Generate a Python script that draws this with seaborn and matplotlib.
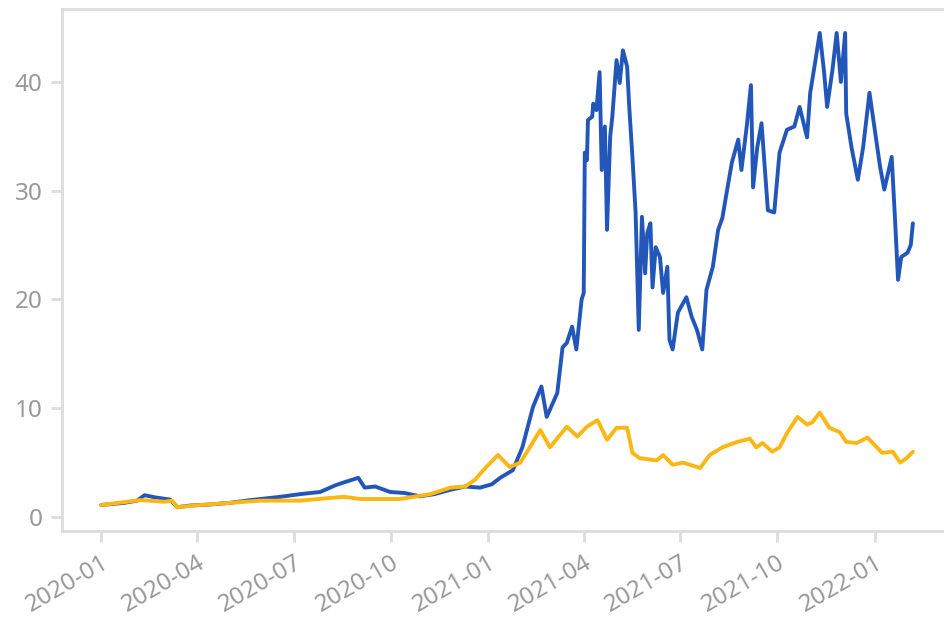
import matplotlib
matplotlib.use("Agg")
import matplotlib.pyplot as plt
import matplotlib.dates as mdates
import pandas as pd
import seaborn as sns

blue_dates = ["2020-01-01", "2020-01-12", "2020-01-23", "2020-02-04", "2020-02-11", "2020-02-21", "2020-03-06",
              "2020-03-13", "2020-03-25", "2020-04-13", "2020-05-02", "2020-05-21", "2020-06-04",
              "2020-06-18", "2020-07-07", "2020-07-26", "2020-08-09", "2020-08-18", "2020-08-31",
              "2020-09-06", "2020-09-16", "2020-09-30", "2020-10-14", "2020-10-28", "2020-11-11",
              "2020-11-26", "2020-12-10", "2020-12-24", "2021-01-04", "2021-01-12", "2021-01-24",
              "2021-02-02", "2021-02-12", "2021-02-20", "2021-02-25", "2021-03-07", "2021-03-12",
              "2021-03-16", "2021-03-21", "2021-03-25", "2021-03-30", "2021-04-01", "2021-04-02",
              "2021-04-04", "2021-04-05", "2021-04-09", "2021-04-10", "2021-04-13", "2021-04-16",
              "2021-04-18", "2021-04-21", "2021-04-23", "2021-04-26", "2021-04-28", "2021-05-02",
              "2021-05-05", "2021-05-08", "2021-05-12", "2021-05-14", "2021-05-17", "2021-05-20",
              "2021-05-23", "2021-05-26", "2021-05-29", "2021-05-31", "2021-06-03", "2021-06-05",
              "2021-06-08", "2021-06-12", "2021-06-15", "2021-06-19", "2021-06-21", "2021-06-24",
              "2021-06-29", "2021-07-07", "2021-07-12", "2021-07-17", "2021-07-22", "2021-07-26",
              "2021-08-01", "2021-08-06", "2021-08-10", "2021-08-14", "2021-08-19", "2021-08-25",
              "2021-08-28", "2021-09-02", "2021-09-06", "2021-09-08", "2021-09-12", "2021-09-16",
              "2021-09-22", "2021-09-28", "2021-10-03", "2021-10-10", "2021-10-17", "2021-10-22",
              "2021-10-29", "2021-11-01", "2021-11-05", "2021-11-10", "2021-11-14", "2021-11-17",
              "2021-11-22", "2021-11-26", "2021-11-30", "2021-12-04", "2021-12-05", "2021-12-10",
              "2021-12-16", "2021-12-21", "2021-12-27", "2022-01-01", "2022-01-06", "2022-01-10",
              "2022-01-17", "2022-01-20", "2022-01-23", "2022-01-26", "2022-02-01", "2022-02-04",
              "2022-02-06"]
blue_values = [1.1, 1.2, 1.3, 1.5, 2.0, 1.8, 1.6,
               0.9, 1.05, 1.15, 1.3, 1.55, 1.7,
               1.85, 2.1, 2.3, 2.9, 3.2, 3.6,
               2.7, 2.8, 2.3, 2.2, 1.9, 2.1,
               2.5, 2.8, 2.7, 3.0, 3.6, 4.3,
               6.4, 10.1, 12.0, 9.2, 11.4, 15.6,
               16.0, 17.5, 15.4, 20.0, 20.6, 33.5,
               32.8, 36.5, 36.8, 38.0, 37.4, 40.9,
               31.9, 35.9, 26.4, 35.0, 36.8, 42.0,
               39.9, 42.9, 41.4, 37.7, 33.1, 28.0,
               17.2, 27.6, 22.4, 26.1, 27.0, 21.1,
               24.8, 23.9, 20.6, 23.0, 16.3, 15.4,
               18.8, 20.2, 18.4, 17.2, 15.4, 20.9,
               23.0, 26.4, 27.5, 29.8, 32.6, 34.7,
               31.9, 35.9, 39.7, 30.3, 34.0, 36.2,
               28.2, 28.0, 33.5, 35.6, 35.9, 37.7,
               34.9, 39.0, 41.4, 44.5, 41.0, 37.7,
               41.1, 44.5, 40.0, 44.5, 37.1, 34.0,
               31.0, 34.0, 39.0, 35.6, 32.2, 30.1,
               33.1, 27.6, 21.8, 23.9, 24.3, 25.0,
               27.0]

yellow_dates = ["2020-01-01", "2020-02-07", "2020-03-01", "2020-03-08", "2020-03-13", "2020-04-03",
                "2020-05-02", "2020-05-30", "2020-07-07", "2020-08-04", "2020-08-18", "2020-09-02",
                "2020-10-09", "2020-11-07", "2020-11-26", "2020-12-10", "2020-12-19", "2020-12-29",
                "2021-01-10", "2021-01-21", "2021-01-31", "2021-02-09", "2021-02-19", "2021-02-28",
                "2021-03-16", "2021-03-26", "2021-04-04", "2021-04-14", "2021-04-23", "2021-05-02",
                "2021-05-12", "2021-05-17", "2021-05-24", "2021-06-09", "2021-06-15", "2021-06-24",
                "2021-07-04", "2021-07-20", "2021-07-29", "2021-08-10", "2021-08-24", "2021-09-05",
                "2021-09-11", "2021-09-17", "2021-09-26", "2021-10-03", "2021-10-10", "2021-10-20",
                "2021-10-29", "2021-11-03", "2021-11-10", "2021-11-19", "2021-11-29", "2021-12-05",
                "2021-12-15", "2021-12-25", "2022-01-03", "2022-01-08", "2022-01-18", "2022-01-25",
                "2022-01-31", "2022-02-06"]
yellow_values = [1.1, 1.55, 1.4, 1.5, 0.9, 1.1,
                 1.3, 1.5, 1.5, 1.75, 1.85, 1.65,
                 1.65, 2.1, 2.7, 2.8, 3.4, 4.5,
                 5.7, 4.6, 5.0, 6.4, 8.0, 6.4,
                 8.3, 7.4, 8.3, 8.9, 7.1, 8.2,
                 8.2, 5.9, 5.4, 5.2, 5.7, 4.8,
                 5.0, 4.5, 5.7, 6.4, 6.9, 7.2,
                 6.4, 6.8, 6.0, 6.4, 7.7, 9.2,
                 8.5, 8.7, 9.6, 8.2, 7.8, 6.9,
                 6.8, 7.3, 6.4, 5.9, 6.0, 5.0,
                 5.4, 6.0]

series_names = ["blue", "yellow"]
series_colors = ["#2356B9", "#FDB714"]

df = pd.concat([
    pd.DataFrame({"date": pd.to_datetime(blue_dates), "value": blue_values, "series": series_names[0]}),
    pd.DataFrame({"date": pd.to_datetime(yellow_dates), "value": yellow_values, "series": series_names[1]}),
], ignore_index=True)

sns.set_style("white")
plt.rcParams["font.family"] = ["Noto Sans", "DejaVu Sans"]

fig = plt.figure(figsize=(9.45, 6.27), dpi=100)
ax = fig.add_axes([0.0656, 0.1531, 0.934, 0.8325])

sns.lineplot(data=df, x="date", y="value", hue="series", hue_order=series_names,
             palette=series_colors, linewidth=2.8, legend=False, ax=ax)

ax.set_xlim(pd.Timestamp("2019-11-25"), pd.Timestamp("2022-03-08"))
ax.set_ylim(-1.29, 46.7)
ax.set_yticks([0, 10, 20, 30, 40])
ax.xaxis.set_major_locator(mdates.MonthLocator(bymonth=[1, 4, 7, 10]))
ax.xaxis.set_major_formatter(mdates.DateFormatter("%Y-%m"))
ax.set_xlabel("")
ax.set_ylabel("")

for side in ["left", "bottom", "top"]:
    ax.spines[side].set_color("#dddddd")
    ax.spines[side].set_linewidth(2)
ax.spines["right"].set_visible(False)

ax.tick_params(axis="both", which="major", length=8, width=2, color="#dddddd",
               labelcolor="#999999", labelsize=17.5, pad=6, direction="out",
               bottom=True, left=True)
for lbl in ax.get_xticklabels():
    lbl.set_rotation(30)
    lbl.set_ha("right")
    lbl.set_rotation_mode("anchor")

fig.savefig("out.png", dpi=100)
